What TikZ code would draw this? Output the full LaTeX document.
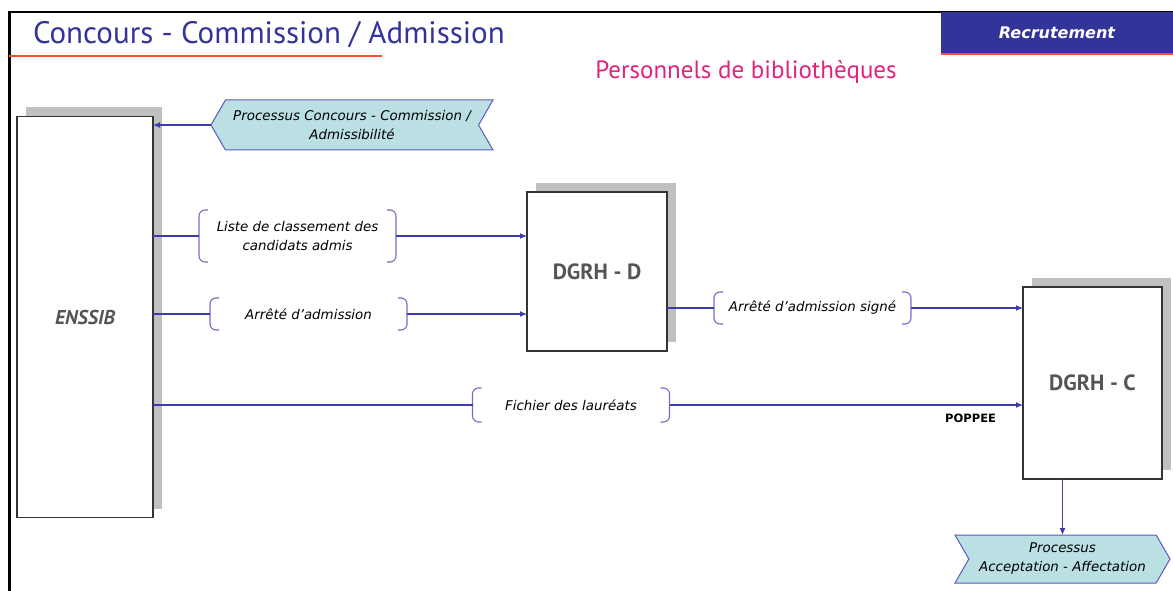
\documentclass[tikz,border=0pt]{standalone}
\usepackage{fontspec}
\setmainfont{PT Sans}
\newfontfamily\labelfont{DejaVu Sans}
\usetikzlibrary{arrows.meta,positioning,shapes.symbols,shadows}
\definecolor{navy}{RGB}{51,51,153}
\definecolor{flowblue}{RGB}{60,60,170}
\definecolor{brkblue}{RGB}{110,110,200}
\definecolor{procfill}{RGB}{186,224,228}
\definecolor{procline}{RGB}{90,90,190}
\definecolor{rose}{RGB}{225,35,125}
\definecolor{redline}{RGB}{250,80,40}
\definecolor{shade}{RGB}{192,192,192}
\definecolor{labelgray}{RGB}{85,85,85}

\begin{document}
\begin{tikzpicture}[
  x=1pt, y=-1pt,
  every node/.style={inner sep=0pt, outer sep=0pt},
  actor/.style={draw=black!80, line width=1.2pt, fill=white, text=labelgray,
    drop shadow={shadow xshift=9pt, shadow yshift=9pt, opacity=1, fill=shade},
    font=\fontsize{22}{24}\selectfont\bfseries},
  msg/.style={minimum width=197pt, align=center, font=\labelfont\fontsize{13.4}{19}\selectfont\itshape},
  brk/.style={brkblue, line width=1.1pt, rounded corners=6pt},
  proc/.style={signal, signal pointer angle=120, draw=procline, line width=1pt, fill=procfill,
    align=center, font=\labelfont\fontsize{13.4}{19}\selectfont\itshape},
  flow/.style={flowblue, line width=1.1pt, -{Latex[length=7pt,width=6pt]}},
  link/.style={flowblue, line width=1.1pt}
]
\useasboundingbox (0,0) rectangle (1173,591);
\draw[line width=2.5pt] (9.5,591) |- (1173,12);

\node[anchor=base west, text=navy, font=\fontsize{31}{34}\selectfont] (ttl) at (33,44) {Concours - Commission / Admission};
\draw[redline, line width=1.5pt] (9,56) -- (382,56);
\node[fill=navy, text=white, minimum width=232pt, minimum height=42pt, anchor=north east,
  font=\labelfont\fontsize{16}{18}\selectfont\bfseries\itshape] (rec) at (1173,12) {Recrutement};
\draw[redline, line width=1.5pt] (rec.south west) -- (rec.south east);
\node[text=rose, font=\fontsize{25}{28}\selectfont] (sub) at (746,72) {Personnels de bibliothèques};

\node[actor, minimum width=136pt, minimum height=401pt, font=\fontsize{20}{22}\selectfont\bfseries\itshape] (ens) at (85,317) {ENSSIB};
\node[actor, minimum width=140pt, minimum height=159pt] (dgd) at (597,271.5) {DGRH - D};
\node[actor, minimum width=139pt, minimum height=192pt] (dgc) at (1092.5,383) {DGRH - C};

\node[proc, signal to=west, signal from=east, minimum width=282pt, minimum height=50pt] (pcc) at (352,125) {Processus Concours - Commission /\\Admissibilité};
\node[proc, signal to=east, signal from=west, minimum width=215pt, minimum height=48pt] (pae) at (1062.5,559) {Processus\\Acceptation - Affectation};

\node[msg, minimum height=52pt] (lst) at (297.5,236) {Liste de classement des\\candidats admis};
\node[msg, minimum height=32pt] (adm) at (308.5,314) {Arrêté d’admission};
\node[msg, minimum height=32pt] (sig) at (812.5,308) {Arrêté d’admission signé};
\node[msg, minimum height=34pt] (fic) at (571,405) {Fichier des lauréats};
\node[anchor=north east, font=\labelfont\fontsize{11.5}{13}\selectfont\bfseries] (pop) at (996,414) {POPPEE};

\foreach \m in {lst, adm, sig, fic}{
  \draw[brk] ([xshift=9pt]\m.north west) -- (\m.north west) -- (\m.south west) -- ([xshift=9pt]\m.south west);
  \draw[brk] ([xshift=-9pt]\m.north east) -- (\m.north east) -- (\m.south east) -- ([xshift=-9pt]\m.south east);
}

\draw[flow] (pcc.west) -- (pcc.west -| ens.east);
\foreach \a/\b in {lst/dgd, adm/dgd, fic/dgc}{
  \draw[link] (\a.west -| ens.east) -- (\a.west);
  \draw[flow] (\a.east) -- (\a.east -| \b.west);
}
\draw[link] (sig.west -| dgd.east) -- (sig.west);
\draw[flow] (sig.east) -- (sig.east -| dgc.west);
\draw[flow] (dgc.south -| pae.north) -- (pae.north);
\end{tikzpicture}
\end{document}
